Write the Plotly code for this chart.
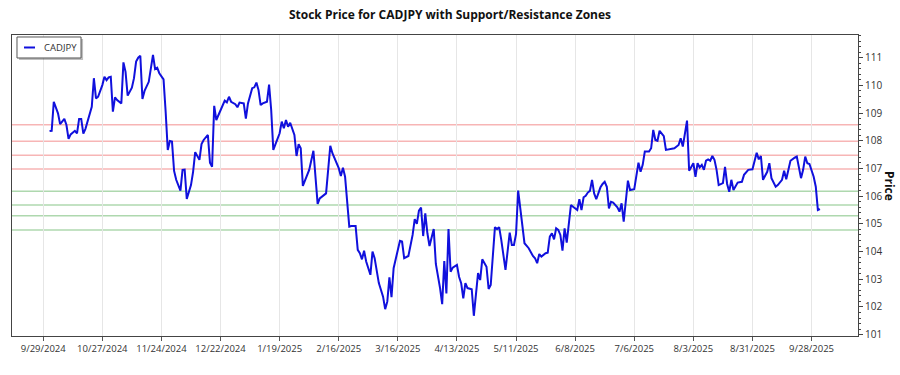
import plotly.graph_objects as go

title_text = "Stock Price for CADJPY with Support/Resistance Zones"
series_name = "CADJPY"

dates = [
    "2024-10-02","2024-10-03","2024-10-04","2024-10-06","2024-10-07","2024-10-08","2024-10-09","2024-10-10",
    "2024-10-11","2024-10-12","2024-10-13","2024-10-14","2024-10-15","2024-10-16","2024-10-17","2024-10-18",
    "2024-10-19","2024-10-21","2024-10-22","2024-10-23","2024-10-24","2024-10-25","2024-10-27","2024-10-28",
    "2024-10-29","2024-10-30","2024-10-31","2024-11-01","2024-11-02","2024-11-03","2024-11-04","2024-11-05",
    "2024-11-06","2024-11-07","2024-11-08","2024-11-10","2024-11-11","2024-11-12","2024-11-13","2024-11-14",
    "2024-11-15","2024-11-16","2024-11-18","2024-11-19","2024-11-20","2024-11-21","2024-11-22","2024-11-23",
    "2024-11-25","2024-11-26","2024-11-27","2024-11-28","2024-11-29","2024-11-30","2024-12-01","2024-12-03",
    "2024-12-04","2024-12-05","2024-12-06","2024-12-08","2024-12-09","2024-12-10","2024-12-12","2024-12-13",
    "2024-12-14","2024-12-16","2024-12-17","2024-12-18","2024-12-19","2024-12-20","2024-12-21","2024-12-23",
    "2024-12-24","2024-12-25","2024-12-26","2024-12-27","2024-12-29","2024-12-30","2024-12-31","2025-01-02",
    "2025-01-03","2025-01-04","2025-01-06","2025-01-07","2025-01-08","2025-01-09","2025-01-10","2025-01-11",
    "2025-01-13","2025-01-14","2025-01-15","2025-01-16","2025-01-17","2025-01-19","2025-01-20","2025-01-21",
    "2025-01-22","2025-01-23","2025-01-24","2025-01-25","2025-01-26","2025-01-27","2025-01-28","2025-01-29",
    "2025-01-30","2025-02-02","2025-02-04","2025-02-06","2025-02-07","2025-02-10","2025-02-12","2025-02-13",
    "2025-02-16","2025-02-17","2025-02-18","2025-02-19","2025-02-21","2025-02-22","2025-02-24","2025-02-25",
    "2025-02-26","2025-02-27","2025-02-28","2025-03-01","2025-03-03","2025-03-04","2025-03-05","2025-03-07",
    "2025-03-09","2025-03-10","2025-03-11","2025-03-12","2025-03-13","2025-03-14","2025-03-15","2025-03-17",
    "2025-03-18","2025-03-19","2025-03-21","2025-03-22","2025-03-23","2025-03-24","2025-03-25","2025-03-26",
    "2025-03-27","2025-03-28","2025-03-29","2025-03-30","2025-03-31","2025-04-02","2025-04-03","2025-04-05",
    "2025-04-06","2025-04-07","2025-04-08","2025-04-09","2025-04-10","2025-04-11","2025-04-13","2025-04-14",
    "2025-04-15","2025-04-16","2025-04-17","2025-04-18","2025-04-20","2025-04-21","2025-04-22","2025-04-23",
    "2025-04-24","2025-04-25","2025-04-27","2025-04-28","2025-04-29","2025-05-01","2025-05-02","2025-05-03",
    "2025-05-04","2025-05-06","2025-05-08","2025-05-09","2025-05-10","2025-05-11","2025-05-12","2025-05-13",
    "2025-05-15","2025-05-17","2025-05-19","2025-05-20","2025-05-21","2025-05-22","2025-05-23","2025-05-25",
    "2025-05-26","2025-05-27","2025-05-28","2025-05-29","2025-05-30","2025-05-31","2025-06-01","2025-06-02",
    "2025-06-03","2025-06-04","2025-06-06","2025-06-07","2025-06-09","2025-06-10","2025-06-11","2025-06-12",
    "2025-06-13","2025-06-14","2025-06-15","2025-06-16","2025-06-17","2025-06-18","2025-06-19","2025-06-20",
    "2025-06-21","2025-06-22","2025-06-23","2025-06-24","2025-06-25","2025-06-26","2025-06-28","2025-06-29",
    "2025-06-30","2025-07-01","2025-07-03","2025-07-04","2025-07-06","2025-07-08","2025-07-09","2025-07-10",
    "2025-07-11","2025-07-13","2025-07-14","2025-07-15","2025-07-16","2025-07-17","2025-07-18","2025-07-20",
    "2025-07-21","2025-07-22","2025-07-25","2025-07-27","2025-07-28","2025-07-29","2025-07-30","2025-07-31",
    "2025-08-01","2025-08-02","2025-08-03","2025-08-04","2025-08-05","2025-08-06","2025-08-07","2025-08-08",
    "2025-08-09","2025-08-10","2025-08-11","2025-08-12","2025-08-13","2025-08-14","2025-08-15","2025-08-17",
    "2025-08-18","2025-08-19","2025-08-20","2025-08-21","2025-08-22","2025-08-24","2025-08-26","2025-08-27",
    "2025-08-28","2025-08-29","2025-08-31","2025-09-02","2025-09-03","2025-09-04","2025-09-05","2025-09-07",
    "2025-09-08","2025-09-09","2025-09-11","2025-09-12","2025-09-14","2025-09-15","2025-09-16","2025-09-18",
    "2025-09-20","2025-09-21","2025-09-23","2025-09-24","2025-09-25","2025-09-26","2025-09-27","2025-09-29",
    "2025-09-30","2025-10-01","2025-10-02",
]

prices = [
    108.35,108.36,109.41,108.99,108.60,108.71,108.79,108.57,
    108.07,108.23,108.31,108.36,108.27,108.79,108.79,108.26,
    108.43,108.93,109.23,110.26,109.53,109.59,110.01,110.31,
    110.19,110.29,110.31,109.05,109.57,109.47,109.41,109.35,
    110.83,110.49,109.63,109.92,110.26,110.86,111.00,111.07,
    109.51,109.80,110.13,110.56,111.10,110.59,110.64,110.44,
    110.22,109.05,107.67,107.99,107.97,106.91,106.59,106.20,
    106.95,106.96,105.90,106.40,106.88,107.59,107.31,107.88,
    108.03,108.21,107.21,107.06,109.26,108.75,108.93,109.23,
    109.45,109.39,109.59,109.41,109.32,109.21,109.38,109.35,
    108.80,109.35,109.90,109.93,110.10,109.83,109.29,109.35,
    109.41,110.03,109.11,107.67,107.85,108.27,108.69,108.45,
    108.75,108.51,108.65,108.42,108.21,107.45,107.88,107.73,
    106.37,106.95,107.64,105.72,105.92,106.10,107.82,107.55,
    107.01,106.73,107.03,106.70,104.90,104.92,104.92,104.06,
    103.94,103.72,104.03,103.64,103.16,104.00,103.76,102.86,
    102.37,101.92,102.19,103.07,102.35,103.40,103.76,104.39,
    104.36,103.76,103.84,104.24,104.60,105.17,105.00,105.48,
    105.59,104.56,105.38,104.66,104.20,104.81,103.55,102.68,
    102.10,103.66,102.49,104.81,103.27,103.42,103.52,103.09,
    102.86,102.31,102.86,102.68,102.64,101.68,102.49,103.22,
    102.97,103.72,103.45,102.65,102.79,104.88,104.81,104.88,
    104.42,103.34,104.68,104.24,104.24,104.64,106.20,105.62,
    104.30,104.12,103.84,103.76,103.58,103.91,103.82,103.94,
    103.96,104.54,104.66,104.44,104.84,104.78,104.60,104.03,
    104.84,104.32,105.68,105.62,105.50,105.89,105.50,105.96,
    106.01,106.13,106.19,106.59,106.10,105.89,106.10,106.32,
    106.44,106.52,106.34,105.56,105.80,105.77,105.60,105.44,
    105.74,105.08,106.56,106.22,106.25,107.21,106.88,107.13,
    107.61,107.61,107.73,108.39,108.03,108.00,108.36,108.17,
    107.67,107.69,107.73,107.85,108.09,107.79,108.27,108.73,
    106.92,107.04,107.19,106.70,107.19,107.04,107.13,106.95,
    107.28,107.33,107.28,107.45,107.31,106.95,106.40,106.47,
    107.06,106.44,106.16,106.59,106.22,106.49,106.52,106.77,
    106.85,106.95,106.97,107.57,107.33,107.45,106.59,106.88,
    107.19,106.65,106.34,106.40,106.59,106.92,106.61,107.28,
    107.39,107.43,106.65,106.95,107.43,107.19,107.16,106.70,
    106.34,105.50,105.53,
]

resistance_levels = [108.58, 107.98, 107.48, 106.98]
support_levels = [106.18, 105.68, 105.29, 104.78]

x_tick_dates = ["2024-09-29","2024-10-27","2024-11-24","2024-12-22","2025-01-19","2025-02-16","2025-03-16",
                "2025-04-13","2025-05-11","2025-06-08","2025-07-06","2025-08-03","2025-08-31","2025-09-28"]
x_tick_labels = ["9/29/2024","10/27/2024","11/24/2024","12/22/2024","1/19/2025","2/16/2025","3/16/2025",
                 "4/13/2025","5/11/2025","6/8/2025","7/6/2025","8/3/2025","8/31/2025","9/28/2025"]
y_tick_values = [101, 102, 103, 104, 105, 106, 107, 108, 109, 110, 111]

FONT = "Segoe UI, Open Sans, Noto Sans, sans-serif"
LINE_COLOR = "#1010dd"

fig = go.Figure()

fig.add_trace(go.Scatter(
    x=dates, y=prices, mode="lines", name=series_name,
    line=dict(color=LINE_COLOR, width=2), showlegend=False,
))

shapes = []
for lv in resistance_levels:
    shapes.append(dict(type="line", xref="paper", x0=0, x1=1, yref="y", y0=lv, y1=lv,
                       line=dict(color="rgba(240,120,120,0.55)", width=1.5), layer="below"))
for lv in support_levels:
    shapes.append(dict(type="line", xref="paper", x0=0, x1=1, yref="y", y0=lv, y1=lv,
                       line=dict(color="rgba(120,190,120,0.6)", width=1.5), layer="below"))

# legend box (drawn manually to match the compact boxed legend)
shapes.append(dict(type="rect", xref="paper", yref="paper", x0=0.0083, x1=0.0840, y0=0.9170, y1=0.9868,
                   line=dict(width=0), fillcolor="rgba(0,0,0,0.25)", layer="above"))
shapes.append(dict(type="rect", xref="paper", yref="paper", x0=0.0059, x1=0.0816, y0=0.9236, y1=0.9934,
                   line=dict(color="#555555", width=1), fillcolor="white", layer="above"))
shapes.append(dict(type="line", xref="paper", yref="paper", x0=0.0142, x1=0.0272, y0=0.9585, y1=0.9585,
                   line=dict(color=LINE_COLOR, width=2), layer="above"))

fig.update_layout(
    width=900, height=375,
    margin=dict(l=12, r=42, t=35, b=39),
    paper_bgcolor="white", plot_bgcolor="white",
    font=dict(family=FONT, size=10, color="#222222"),
    title=dict(text="<b>" + title_text + "</b>", x=0.5, xanchor="center", y=0.96, yanchor="middle",
               font=dict(family=FONT, size=12, color="#111111")),
    showlegend=False,
    shapes=shapes,
    annotations=[
        dict(text="<b>Price</b>", xref="paper", yref="paper", x=1.038, y=0.498,
             showarrow=False, textangle=90, font=dict(size=12, color="#111111"),
             xanchor="center", yanchor="middle"),
        dict(text=series_name, xref="paper", yref="paper", x=0.0355, y=0.9585,
             showarrow=False, xanchor="left", yanchor="middle",
             font=dict(size=9.5, color="#333333")),
    ],
)

fig.update_xaxes(
    type="date", range=["2024-09-14 05:00", "2025-10-20"],
    tickmode="array", tickvals=x_tick_dates, ticktext=x_tick_labels,
    ticks="outside", ticklen=4, tickcolor="#555555",
    showgrid=True, gridcolor="#e6e6e6", gridwidth=1,
    showline=True, linecolor="#444444", linewidth=1, mirror=True,
    tickfont=dict(size=9.5, color="#333333"), zeroline=False,
)
fig.update_yaxes(
    side="right", range=[100.95, 111.82],
    tickmode="array", tickvals=y_tick_values,
    ticks="outside", ticklen=4, tickcolor="#444444",
    minor=dict(ticks="outside", ticklen=2, dtick=0.2, tickcolor="#444444", showgrid=False),
    showgrid=False, zeroline=False,
    showline=True, linecolor="#444444", linewidth=1, mirror=True,
    tickfont=dict(size=10, color="#333333"),
)

fig.write_html("out.html", config={"displayModeBar": False},
               post_script="document.body.style.margin='0';document.body.style.overflow='hidden';")
